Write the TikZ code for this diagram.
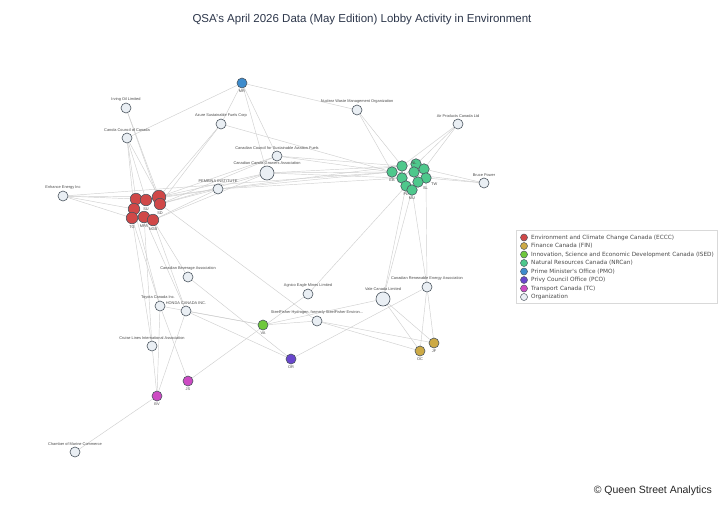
\documentclass[tikz,border=0pt]{standalone}
\usepackage{fontspec}
\setmainfont{Liberation Sans}
\newfontfamily\legfont{DejaVu Sans}
\usetikzlibrary{backgrounds}
\definecolor{ecccc}{RGB}{208,72,72}
\definecolor{finc}{RGB}{205,170,70}
\definecolor{isedc}{RGB}{110,200,60}
\definecolor{nrcanc}{RGB}{78,200,140}
\definecolor{pmoc}{RGB}{62,140,205}
\definecolor{pcoc}{RGB}{105,70,205}
\definecolor{tcc}{RGB}{205,75,195}
\definecolor{orgc}{RGB}{234,239,244}
\definecolor{bordc}{RGB}{75,85,95}
\definecolor{edgec}{RGB}{208,208,208}
\definecolor{titlec}{RGB}{45,55,75}
\tikzset{
  vx/.style={circle, draw=bordc, line width=0.6pt, inner sep=0pt, minimum size=10pt},
  org/.style={vx, fill=orgc},
  bigorg/.style={vx, fill=orgc, minimum size=14pt},
  red/.style={vx, fill=ecccc, minimum size=11.5pt},
  bigred/.style={vx, fill=ecccc, minimum size=13.5pt},
  grn/.style={vx, fill=nrcanc, minimum size=10.5pt},
  fin/.style={vx, fill=finc},
  ised/.style={vx, fill=isedc},
  pmo/.style={vx, fill=pmoc},
  pco/.style={vx, fill=pcoc},
  tc/.style={vx, fill=tcc},
  lbl/.style={font=\fontsize{3.9}{4.5}\selectfont, text=black!70, inner sep=0.3pt},
  edge/.style={draw=edgec, line width=0.45pt},
  legdot/.style={circle, draw=bordc, line width=0.5pt, inner sep=0pt, minimum size=7pt},
  legtxt/.style={font=\legfont\fontsize{5.75}{7}\selectfont, text=black!70, anchor=west, inner sep=0pt},
  every label/.style={lbl},
  label distance=1pt
}
\begin{document}
\begin{tikzpicture}[x=1pt,y=-1pt]
\useasboundingbox (0,0) rectangle (720,504);
\node[font=\fontsize{11.5}{13}\selectfont, text=titlec] (title) at (362,20) {QSA's April 2026 Data (May Edition) Lobby Activity in Environment};
% organizations
\node[org, label=above:Irving Oil Limited] (irving) at (126,108) {};
\node[org, label=above:Nuclear Waste Management Organization] (nwmo) at (357,110) {};
\node[org, label=above:Air Products Canada Ltd] (air) at (458,124) {};
\node[org, label=above:Azure Sustainable Fuels Corp] (azure) at (221,124) {};
\node[org, label=above:Canola Council of Canada] (canola) at (127,138) {};
\node[org, label=above:Canadian Council for Sustainable Aviation Fuels] (ccsaf) at (277,156) {};
\node[bigorg, label=above:Canadian Canola Growers Association] (ccga) at (267,173) {};
\node[org, label=above:PEMBINA INSTITUTE] (pembina) at (218,189) {};
\node[org, label=above:Enhance Energy Inc] (enhance) at (63,196) {};
\node[org, label=above:Bruce Power] (bruce) at (484,183) {};
\node[org, label=above:Canadian Beverage Association] (cba) at (188,277) {};
\node[org, label={[xshift=-2pt]above:Toyota Canada Inc.}] (toyota) at (160,306) {};
\node[org, label=above:HONDA CANADA INC.] (honda) at (186,311) {};
\node[org, label=above:Cruise Lines International Association] (cruise) at (152,346) {};
\node[org, label=above:Agnico Eagle Mines Limited] (agnico) at (308,294) {};
\node[bigorg, label=above:Vale Canada Limited] (vale) at (383,299) {};
\node[org, label=above:Canadian Renewable Energy Association] (crea) at (427,287) {};
\node[org, label=above:{SteelFisher Hydrogen, formerly SteelFisher Environ...}] (steel) at (317,321) {};
\node[org, label=above:Chamber of Marine Commerce] (chamber) at (75,452) {};
% institutions
\node[pmo, label=below:MR] (pmo) at (242,83) {};
\node[ised, label=below:VA] (isedn) at (263,325) {};
\node[pco, label=below:OR] (pcon) at (291,359) {};
\node[fin, label=below:OC] (oc) at (420,351) {};
\node[fin, label=below:JF] (jf) at (434,343) {};
\node[tc, label=below:BV] (bv) at (157,396) {};
\node[tc, label=below:JS] (js) at (188,381) {};
% ECCC cluster
\node[red] (r1) at (136,199) {};
\node[red, label=below:SU] (r2) at (146,200) {};
\node[bigred] (r3) at (159,197) {};
\node[red, label=below:SD] (r4) at (160,204) {};
\node[red] (r5) at (134,209) {};
\node[red, label=below:TG] (r6) at (132,218) {};
\node[red, label=below:MPA] (r7) at (144,217) {};
\node[red, label=below:NGB] (r8) at (153,220) {};
% NRCan cluster
\node[grn, label=below:EB] (g1) at (392,172) {};
\node[grn, label=below:GH] (g2) at (402,166) {};
\node[grn] (g3) at (416,164) {};
\node[grn, label=above:NL] (g4) at (414,172) {};
\node[grn] (g5) at (424,169) {};
\node[grn, label=below right:TW] (g6) at (426,178) {};
\node[grn] (g7) at (402,178) {};
\node[grn, label=below:PL] (g8) at (406,186) {};
\node[grn, label=below:MU] (g9) at (412,190) {};
\node[grn, label=below right:SL] (g10) at (418,182) {};
% edges
\begin{pgfonlayer}{background}
\fill[white] (0,0) rectangle (720,504);
\draw[edge] (pmo) -- (canola);
\draw[edge] (pmo) -- (azure);
\draw[edge] (pmo) -- (ccsaf);
\draw[edge] (pmo) -- (ccga);
\draw[edge] (pmo) -- (nwmo);
\draw[edge] (irving) -- (r3);
\draw[edge] (irving) -- (r4);
\draw[edge] (canola) -- (r1);
\draw[edge] (canola) -- (r2);
\draw[edge] (canola) -- (r3);
\draw[edge] (canola) -- (r5);
\draw[edge] (enhance) -- (r1);
\draw[edge] (enhance) -- (r5);
\draw[edge] (enhance) -- (r6);
\draw[edge] (enhance) -- (r3);
\draw[edge] (enhance) -- (g1);
\draw[edge] (azure) -- (r3);
\draw[edge] (azure) -- (r4);
\draw[edge] (azure) -- (g1);
\draw[edge] (pembina) -- (r3);
\draw[edge] (pembina) -- (r4);
\draw[edge] (pembina) -- (r2);
\draw[edge] (pembina) -- (r8);
\draw[edge] (pembina) -- (g1);
\draw[edge] (pembina) -- (g3);
\draw[edge] (pembina) -- (g7);
\draw[edge] (ccsaf) -- (r3);
\draw[edge] (ccsaf) -- (r4);
\draw[edge] (ccsaf) -- (g1);
\draw[edge] (ccsaf) -- (g2);
\draw[edge] (ccga) -- (r3);
\draw[edge] (ccga) -- (r4);
\draw[edge] (ccga) -- (r8);
\draw[edge] (ccga) -- (g1);
\draw[edge] (ccga) -- (g2);
\draw[edge] (ccga) -- (g7);
\draw[edge] (nwmo) -- (g1);
\draw[edge] (nwmo) -- (g2);
\draw[edge] (air) -- (g2);
\draw[edge] (air) -- (g5);
\draw[edge] (air) -- (g7);
\draw[edge] (bruce) -- (g5);
\draw[edge] (bruce) -- (g6);
\draw[edge] (bruce) -- (g1);
\draw[edge] (cba) -- (r8);
\draw[edge] (cba) -- (pcon);
\draw[edge] (toyota) -- (r5);
\draw[edge] (toyota) -- (r6);
\draw[edge] (toyota) -- (isedn);
\draw[edge] (toyota) -- (bv);
\draw[edge] (toyota) -- (js);
\draw[edge] (honda) -- (r8);
\draw[edge] (honda) -- (r7);
\draw[edge] (honda) -- (isedn);
\draw[edge] (honda) -- (pcon);
\draw[edge] (honda) -- (bv);
\draw[edge] (cruise) -- (r6);
\draw[edge] (cruise) -- (r7);
\draw[edge] (cruise) -- (bv);
\draw[edge] (chamber) -- (bv);
\draw[edge] (steel) -- (r4);
\draw[edge] (steel) -- (isedn);
\draw[edge] (steel) -- (oc);
\draw[edge] (steel) -- (jf);
\draw[edge] (agnico) -- (g8);
\draw[edge] (agnico) -- (js);
\draw[edge] (vale) -- (g8);
\draw[edge] (vale) -- (g9);
\draw[edge] (vale) -- (isedn);
\draw[edge] (vale) -- (oc);
\draw[edge] (vale) -- (jf);
\draw[edge] (crea) -- (g6);
\draw[edge] (crea) -- (g9);
\draw[edge] (crea) -- (pcon);
\draw[edge] (crea) -- (oc);
\draw[edge] (crea) -- (jf);
\end{pgfonlayer}
% legend
\node[draw=black!15, line width=0.5pt, fill=white, minimum width=201pt, minimum height=73pt, inner sep=0pt] (legbox) at (616.5,266.5) {};
\node[legdot, fill=ecccc] (l1) at (524,237.5) {};
\node[legtxt] (t1) at (531,237.5) {Environment and Climate Change Canada (ECCC)};
\node[legdot, fill=finc] (l2) at (524,246) {};
\node[legtxt] (t2) at (531,246) {Finance Canada (FIN)};
\node[legdot, fill=isedc] (l3) at (524,254.5) {};
\node[legtxt] (t3) at (531,254.5) {Innovation, Science and Economic Development Canada (ISED)};
\node[legdot, fill=nrcanc] (l4) at (524,263) {};
\node[legtxt] (t4) at (531,263) {Natural Resources Canada (NRCan)};
\node[legdot, fill=pmoc] (l5) at (524,271.5) {};
\node[legtxt] (t5) at (531,271.5) {Prime Minister's Office (PMO)};
\node[legdot, fill=pcoc] (l6) at (524,280) {};
\node[legtxt] (t6) at (531,280) {Privy Council Office (PCO)};
\node[legdot, fill=tcc] (l7) at (524,288.5) {};
\node[legtxt] (t7) at (531,288.5) {Transport Canada (TC)};
\node[legdot, fill=orgc] (l8) at (524,297) {};
\node[legtxt] (t8) at (531,297) {Organization};
% credit
\node[anchor=east, font=\fontsize{10.5}{12}\selectfont, text=black!85, inner sep=0pt] (credit) at (712,491) {© Queen Street Analytics};
\end{tikzpicture}
\end{document}
